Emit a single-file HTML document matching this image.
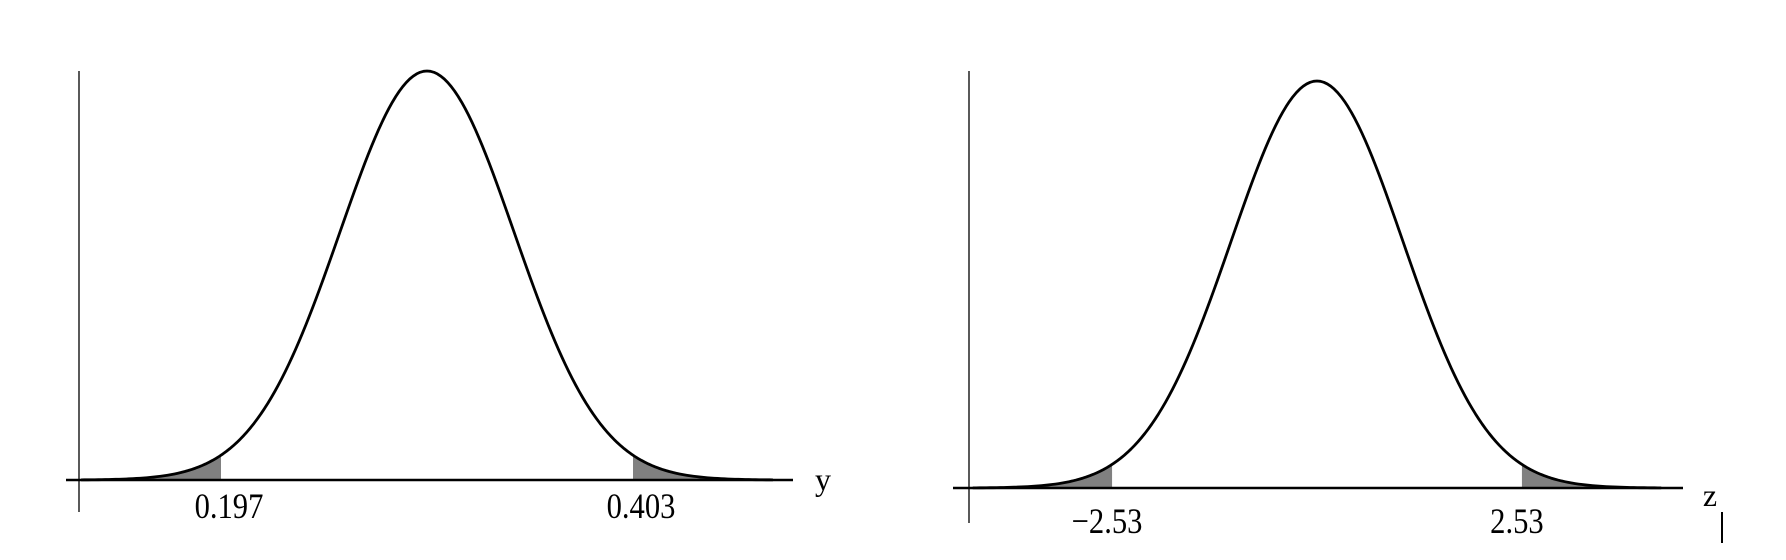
<!DOCTYPE html>
<html><head><meta charset="utf-8"><style>
html,body{margin:0;padding:0;background:#fff;}
svg{display:block;font-family:"Liberation Serif",serif;}
</style></head><body>
<svg id="c" width="1786" height="560" viewBox="0 0 1786 560"></svg>
<script>
// data
const panels = ["y","z"];
const means = [0.3, 0];
const sigmas = [0.0435, 1.06];
const lowCuts = [0.197, -2.53];
const highCuts = [0.403, 2.53];
const tickLabels = [["0.197","0.403"],["\u22122.53","2.53"]];
const axisLabels = ["y","z"];
const unitScale = [0.0407, 1];

const layout = [
  {ax:79, ayTop:71, ayBot:512, by:480, xl:66, xr:793, cx:427, spx:81.4, peak:409, lblY:506, lblDx:8, axLblX:823, axLblY:490},
  {ax:969, ayTop:71, ayBot:523, by:488, xl:953, xr:1683, cx:1317, spx:81, peak:407, lblY:521, lblDx:-5, axLblX:1710, axLblY:506}
];
const svg = document.getElementById('c');
const NS = "http://www.w3.org/2000/svg";
function mk(t, a){const e=document.createElementNS(NS,t);for(const k in a)e.setAttribute(k,a[k]);svg.appendChild(e);return e;}

panels.forEach((p,i)=>{
  const L = layout[i], mu = means[i], sd = sigmas[i], u = unitScale[i];
  const X = v => L.cx + (v-mu)/u*L.spx;
  const Y = v => L.by - L.peak*Math.exp(-0.5*((v-mu)/sd)**2);
  const lo = mu-4.25*u, hi = mu+4.25*u;
  const pts = [];
  for(let k=0;k<=200;k++){const v=lo+(hi-lo)*k/200;pts.push([X(v),Y(v)]);}
  function tail(a,b,name){
    let d=`M${X(a)},${L.by}`;
    for(let k=0;k<=60;k++){const v=a+(b-a)*k/60;d+=` L${X(v)},${Y(v)}`;}
    d+=` L${X(b)},${L.by} Z`;
    const e=mk('path',{d,fill:'#808080',stroke:'none'});
    
    
  }
  tail(lo, lowCuts[i], 'shaded-left-tail-'+p);
  tail(highCuts[i], hi, 'shaded-right-tail-'+p);
  let e=mk('line',{x1:L.ax,y1:L.ayTop,x2:L.ax,y2:L.ayBot,stroke:'#000','stroke-width':1.3});
  
  
  e=mk('line',{x1:L.xl,y1:L.by,x2:L.xr,y2:L.by,stroke:'#000','stroke-width':2.4});
  
  
  e=mk('polyline',{points:pts.map(q=>q.join(',')).join(' '),fill:'none',stroke:'#000','stroke-width':2.8,'stroke-linejoin':'round'});
  
  
  [lowCuts[i],highCuts[i]].forEach((c,j)=>{
    const lx = X(c)+L.lblDx;
    const t=mk('text',{x:lx,y:L.lblY+12,'font-size':36,'text-anchor':'middle',transform:`translate(${lx},0) scale(0.85,1) translate(${-lx},0)`});
    t.textContent=tickLabels[i][j];
    
    
  });
  const t=mk('text',{x:L.axLblX,y:L.axLblY,'font-size':32,'text-anchor':'middle'});
  t.textContent=axisLabels[i];
  
  
});
const bar=mk('line',{x1:1722,y1:512,x2:1722,y2:543,stroke:'#000','stroke-width':2});


</script>
</body></html>
